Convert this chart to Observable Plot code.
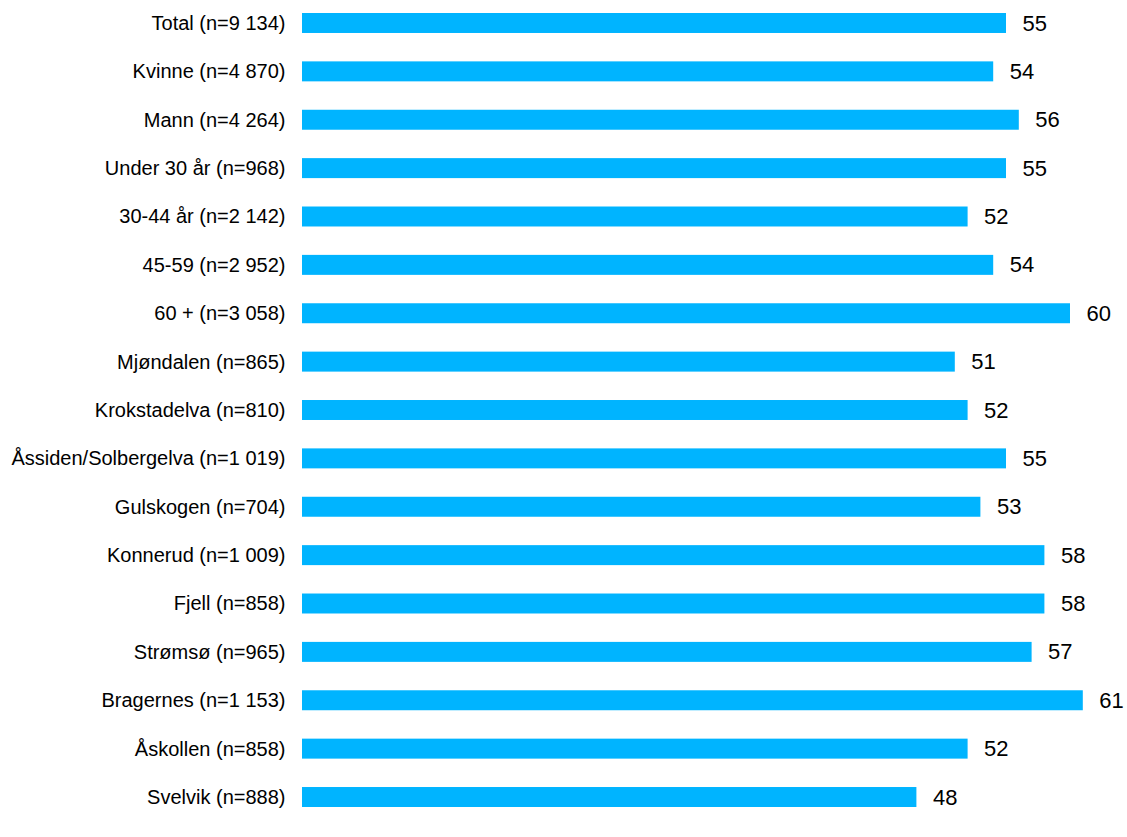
<!DOCTYPE html>
<html>
<head>
<meta charset="utf-8">
<script src="https://cdn.jsdelivr.net/npm/d3@7"></script>
<script src="https://cdn.jsdelivr.net/npm/@observablehq/plot@0.6"></script>
<style>
  html, body { margin: 0; padding: 0; background: #fff; }
  #chart svg { display: block; }
</style>
</head>
<body>
<div id="chart"></div>
<script>
const categories = [
  "Total (n=9 134)",
  "Kvinne (n=4 870)",
  "Mann (n=4 264)",
  "Under 30 år (n=968)",
  "30-44 år (n=2 142)",
  "45-59 (n=2 952)",
  "60 + (n=3 058)",
  "Mjøndalen (n=865)",
  "Krokstadelva (n=810)",
  "Åssiden/Solbergelva (n=1 019)",
  "Gulskogen (n=704)",
  "Konnerud (n=1 009)",
  "Fjell (n=858)",
  "Strømsø (n=965)",
  "Bragernes (n=1 153)",
  "Åskollen (n=858)",
  "Svelvik (n=888)"
];
const values = [55, 54, 56, 55, 52, 54, 60, 51, 52, 55, 53, 58, 58, 57, 61, 52, 48];

const data = categories.map((c, i) => ({category: c, value: values[i]}));

const chart = Plot.plot({
  width: 1127,
  height: 837,
  marginLeft: 302,
  marginRight: 5.8,
  marginTop: 13,
  marginBottom: 30,
  style: {fontFamily: "Arial, 'Liberation Sans', sans-serif", background: "#fff"},
  x: {domain: [0, 64], axis: null},
  y: {domain: categories, paddingInner: 0.587, paddingOuter: 0, round: false, label: null},
  marks: [
    Plot.barX(data, {x: "value", y: "category", fill: "#00b4ff"}),
    Plot.text(data, {x: "value", y: "category", text: d => String(d.value), dx: 16, textAnchor: "start", fontSize: 22, fill: "#000"}),
    Plot.axisY({tickSize: 0, tickPadding: 17, fontSize: 20, label: null, color: "#000"})
  ]
});
document.getElementById("chart").appendChild(chart);
</script>
</body>
</html>
